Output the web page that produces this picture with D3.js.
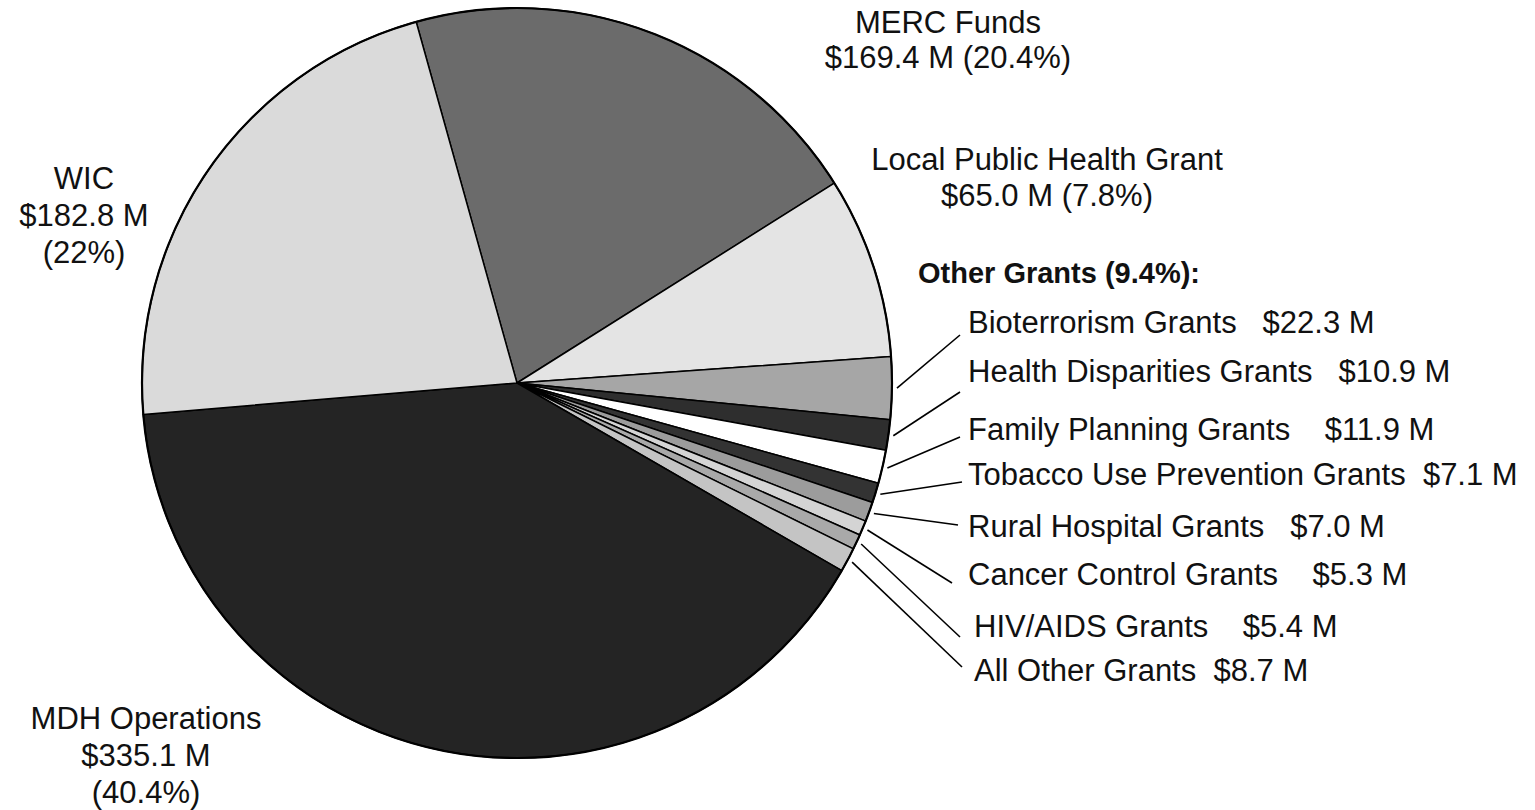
<!DOCTYPE html>
<html>
<head>
<meta charset="utf-8">
<script src="https://cdn.jsdelivr.net/npm/d3@7"></script>
<style>
  body { margin: 0; background: #fff; }
  text { font-family: "Liberation Sans", Arial, sans-serif; fill: #111; white-space: pre; }
</style>
</head>
<body>
<div id="pie"></div>
<script>
// data, clockwise from MERC
var categories = ["MERC Funds", "Local Public Health Grant", "Bioterrorism Grants", "Health Disparities Grants",
  "Family Planning Grants", "Tobacco Use Prevention Grants", "Rural Hospital Grants", "Cancer Control Grants",
  "HIV/AIDS Grants", "All Other Grants", "MDH Operations", "WIC"];
var amounts = [169.4, 65.0, 22.3, 10.9, 11.9, 7.1, 7.0, 5.3, 5.4, 8.7, 335.1, 182.8];
var shares = ["20.4%", "7.8%", "", "", "", "", "", "", "", "", "40.4%", "22%"];
var groupTitle = "Other Grants (9.4%):";
// gap between name and amount, as in the original
var nameGaps = ["", "", "  ", "  ", "   ", " ", "  ", "   ", "   ", " ", "", ""];

var shades = ["#6b6b6b", "#e4e4e4", "#a6a6a6", "#2e2e2e", "#ffffff", "#333333",
  "#9c9c9c", "#d4d4d4", "#a9a9a9", "#c4c4c4", "#242424", "#dadada"];

var width = 1535;
var height = 810;
var cx = 517, cy = 383, radius = 375;
var startDeg = -15.6;

var svg = d3.select("#pie")
  .append("svg")
  .attr("width", width)
  .attr("height", height);

var fmt = d3.format(".1f");
function money(v) { return "$" + fmt(v) + " M"; }

var data = categories.map(function(c, i) {
  return { name: c, amount: amounts[i], share: shares[i], gap: nameGaps[i], idx: i };
});

var a0 = startDeg * Math.PI / 180;
var pie = d3.pie()
  .sort(null)
  .value(function(d) { return d.amount; })
  .startAngle(a0)
  .endAngle(a0 + 2 * Math.PI);

var arc = d3.arc().innerRadius(0).outerRadius(radius);
var arcs = pie(data);

var g = svg.append("g").attr("transform", "translate(" + cx + "," + cy + ")");

g.selectAll("path.slice")
  .data(arcs)
  .enter()
  .append("path")
  .attr("class", "slice")
  .attr("d", arc)
  .attr("fill", function(d) { return shades[d.data.idx]; })
  .attr("stroke", "#000")
  .attr("stroke-width", 1.5)
  .attr("stroke-linejoin", "round");

g.append("circle")
  .attr("r", radius)
  .attr("fill", "none")
  .attr("stroke", "#000")
  .attr("stroke-width", 2.2);

// big labels (multi line, centred)
var bigLabels = [
  { idx: 0, x: 948, y: 33, lines: ["MERC Funds", money(amounts[0]) + " (" + shares[0] + ")"] },
  { idx: 1, x: 1047, y: 170, lines: ["Local Public Health Grant", money(amounts[1]) + " (" + shares[1] + ")"] },
  { idx: 11, x: 84, y: 189, lines: ["WIC", money(amounts[11]), "(" + shares[11] + ")"] },
  { idx: 10, x: 146, y: 729, lines: ["MDH Operations", money(amounts[10]), "(" + shares[10] + ")"] }
];
var lineStep = [35, 36, 37, 37];

bigLabels.forEach(function(b, k) {
  var t = svg.append("text")
    .attr("x", b.x)
    .attr("y", b.y)
    .attr("text-anchor", "middle")
    .attr("font-size", 31);
  b.lines.forEach(function(l, j) {
    t.append("tspan")
      .attr("x", b.x)
      .attr("dy", j === 0 ? 0 : lineStep[k])
      .text(l);
  });
});

// other grants list
svg.append("text")
  .attr("x", 918)
  .attr("y", 283)
  .attr("font-size", 29)
  .attr("font-weight", "bold")
  .text(groupTitle);

var small = arcs.slice(2, 10);
var labelX = [968, 968, 968, 968, 968, 968, 974, 974];
var labelY = [333, 382, 440, 485, 537, 585, 637, 681];
var endX = [960, 960, 960, 962, 958, 952, 960, 962];
var endDy = [2, 10, -3, -3, -12, -2, 0, -14];

var leaderArc = d3.arc().innerRadius(radius + 5).outerRadius(radius + 5);

svg.selectAll("line.leader")
  .data(small)
  .enter()
  .append("line")
  .attr("class", "leader")
  .attr("x1", function(d) { return cx + leaderArc.centroid(d)[0]; })
  .attr("y1", function(d) { return cy + leaderArc.centroid(d)[1]; })
  .attr("x2", function(d, i) { return endX[i]; })
  .attr("y2", function(d, i) { return labelY[i] + endDy[i]; })
  .attr("stroke", "#000")
  .attr("stroke-width", 1.6);

svg.selectAll("text.other")
  .data(small)
  .enter()
  .append("text")
  .attr("class", "other")
  .attr("x", function(d, i) { return labelX[i]; })
  .attr("y", function(d, i) { return labelY[i]; })
  .attr("font-size", 31)
  .text(function(d) { return d.data.name + " " + d.data.gap + money(d.data.amount); });
</script>
</body>
</html>
